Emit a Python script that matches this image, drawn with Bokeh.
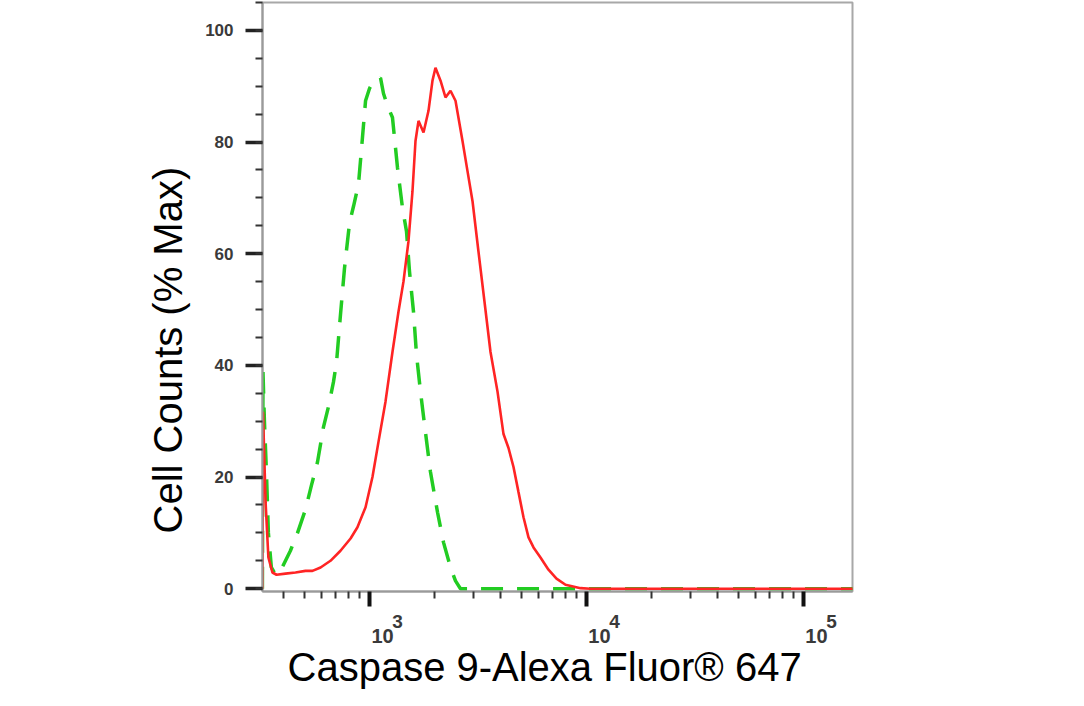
import math
from bokeh.plotting import figure
from bokeh.models import (Range1d, FixedTicker, SingleIntervalTicker, LogAxis, Title,
                          CustomJSTickFormatter)
from bokeh.embed import file_html
from bokeh.resources import INLINE

# ---------------- data ----------------
red_x = [321, 323, 332, 342, 357, 373, 410, 456, 507, 546, 595, 661, 735, 818, 880, 959,
         1032, 1100, 1185, 1276, 1360, 1434, 1512, 1578, 1629, 1682, 1774, 1870, 1951, 2014,
         2125, 2240, 2362, 2491, 2683, 2829, 2984, 3178, 3388, 3611, 3890, 4145, 4371, 4609,
         4860, 5125, 5405, 5699, 6137, 6681, 7273, 8003, 9384, 10430, 11600, 20000, 40000,
         80000, 170000]
red_y = [0, 31.7, 15.5, 5.6, 2.9, 2.5, 2.7, 2.9, 3.2, 3.2, 3.8, 5.0, 6.8, 9.0, 11.0, 14.6,
         20.0, 26.3, 33.5, 42.4, 49.6, 55.0, 62.2, 71.2, 80.2, 83.8, 81.7, 85.6, 91.0, 93.3,
         91.0, 88.0, 89.2, 87.4, 80.2, 74.8, 69.4, 60.4, 51.4, 42.4, 35.3, 27.7, 25.2, 21.8,
         17.3, 12.8, 9.2, 7.4, 5.6, 3.4, 1.8, 0.7, 0.1, 0, 0, 0, 0, 0, 0]

green_x = [321, 323, 328, 335, 342, 353, 369, 389, 410, 432, 466, 507, 540, 576, 614, 647,
           682, 705, 735, 767, 809, 844, 890, 928, 959, 1000, 1032, 1077, 1124, 1160, 1210,
           1276, 1346, 1419, 1481, 1529, 1595, 1647, 1718, 1811, 1910, 2058, 2193, 2362, 2491,
           2626, 4000, 7000, 10000, 20000, 50000, 100000, 170000]
green_y = [0, 38.8, 29.9, 20.9, 10.0, 3.8, 2.5, 3.2, 5.0, 6.8, 10.0, 14.2, 18.5, 22.7, 29.0,
           32.6, 37.0, 40.6, 49.1, 57.4, 65.5, 68.5, 72.5, 80.8, 87.4, 89.6, 90.6, 91.0, 91.5,
           88.7, 86.5, 84.4, 75.4, 68.2, 64.0, 56.8, 49.6, 41.9, 35.3, 28.0, 20.9, 13.7, 8.3,
           3.8, 1.4, 0, 0, 0, 0, 0, 0, 0, 0]

x_major_ticks = [1000, 10000, 100000]
x_minor_ticks = [400, 500, 600, 700, 800, 900,
                 2000, 3000, 4000, 5000, 6000, 7000, 8000, 9000,
                 20000, 30000, 40000, 50000, 60000, 70000, 80000, 90000]
x_tick_base = ["10", "10", "10"]
x_tick_exponents = ["3", "4", "5"]

x_title = "Caspase 9-Alexa Fluor® 647"
y_title = "Cell Counts (% Max)"

# ---------------- layout ----------------
W, H = 1068, 694
FL, FW, FT, FH = 262, 590, 2, 589        # plot frame in canvas px
X0, X1 = 321.3, 168200.0
Y0, Y1 = -0.5, 105.0


def shifted_range(px):
    """x range whose ticks land px pixels to the right of the main axis ticks"""
    l0, l1 = math.log10(X0), math.log10(X1)
    d = px / FW * (l1 - l0)
    return Range1d(10 ** (l0 - d), 10 ** (l1 - d))


p = figure(width=W, height=H, x_axis_type="log",
           x_range=Range1d(X0, X1), y_range=Range1d(Y0, Y1),
           output_backend="svg", toolbar_location=None,
           min_border_left=FL, min_border_right=W - FL - FW,
           min_border_top=FT, min_border_bottom=H - FT - FH)
p.xgrid.visible = False
p.ygrid.visible = False
p.outline_line_color = "#a8a8a8"
p.outline_line_width = 2
p.background_fill_color = "white"
p.border_fill_color = "white"

# y axis
ya = p.yaxis[0]
ya.ticker = SingleIntervalTicker(interval=20, num_minor_ticks=4)
ya.axis_line_color = "#9a9a9a"
ya.axis_line_width = 2
ya.major_tick_in = 0
ya.major_tick_out = 17
ya.major_tick_line_width = 3.5
ya.major_tick_line_color = "#222222"
ya.minor_tick_in = 0
ya.minor_tick_out = 7
ya.minor_tick_line_width = 2
ya.minor_tick_line_color = "#333333"
ya.major_label_standoff = 12
ya.major_label_text_font = "Liberation Sans"
ya.major_label_text_font_style = "bold"
ya.major_label_text_font_size = "17px"
ya.major_label_text_color = "#3a3a3a"

# x axis (ticks only)
xa = p.xaxis[0]
xa.ticker = FixedTicker(ticks=x_major_ticks, minor_ticks=x_minor_ticks)
xa.formatter = CustomJSTickFormatter(code="return ''")
xa.axis_line_color = "#9a9a9a"
xa.axis_line_width = 2
xa.major_tick_in = 0
xa.major_tick_out = 15
xa.major_tick_line_width = 4
xa.major_tick_line_color = "#111111"
xa.minor_tick_in = 0
xa.minor_tick_out = 7
xa.minor_tick_line_width = 2
xa.minor_tick_line_color = "#333333"
xa.major_label_standoff = 0
xa.major_label_text_font_size = "1px"

# x tick labels: raised exponent row, then the "10" row
p.extra_x_ranges = {"exp": shifted_range(28), "base": shifted_range(13)}
for name, labels, size, stand in (("exp", x_tick_exponents, "19px", 8),
                                  ("base", x_tick_base, "20px", -2)):
    ax = LogAxis(x_range_name=name,
                 ticker=FixedTicker(ticks=x_major_ticks, minor_ticks=[]),
                 major_label_overrides={t: s for t, s in zip(x_major_ticks, labels)})
    ax.axis_line_color = None
    ax.major_tick_line_color = None
    ax.minor_tick_line_color = None
    ax.major_tick_in = 0
    ax.major_tick_out = 0
    ax.minor_tick_in = 0
    ax.minor_tick_out = 0
    ax.major_label_standoff = stand
    ax.major_label_text_font = "Liberation Sans"
    ax.major_label_text_font_style = "bold"
    ax.major_label_text_font_size = size
    ax.major_label_text_color = "#3a3a3a"
    p.add_layout(ax, "below")

# curves
p.line(green_x, green_y, line_color="#22cc22", line_width=3.5, line_dash="22 14")
p.line(red_x, red_y, line_color="#ff2424", line_width=2.6)

# axis titles
p.add_layout(Title(text=x_title, align="left", offset=25, standoff=-6,
                   text_font="Liberation Sans", text_font_size="40px",
                   text_font_style="normal", text_color="black"), "below")
p.add_layout(Title(text=y_title, align="left", offset=58, standoff=26,
                   text_font="Liberation Sans", text_font_size="40px",
                   text_font_style="normal", text_color="black"), "left")

open("out.html", "w").write(file_html(p, INLINE))
